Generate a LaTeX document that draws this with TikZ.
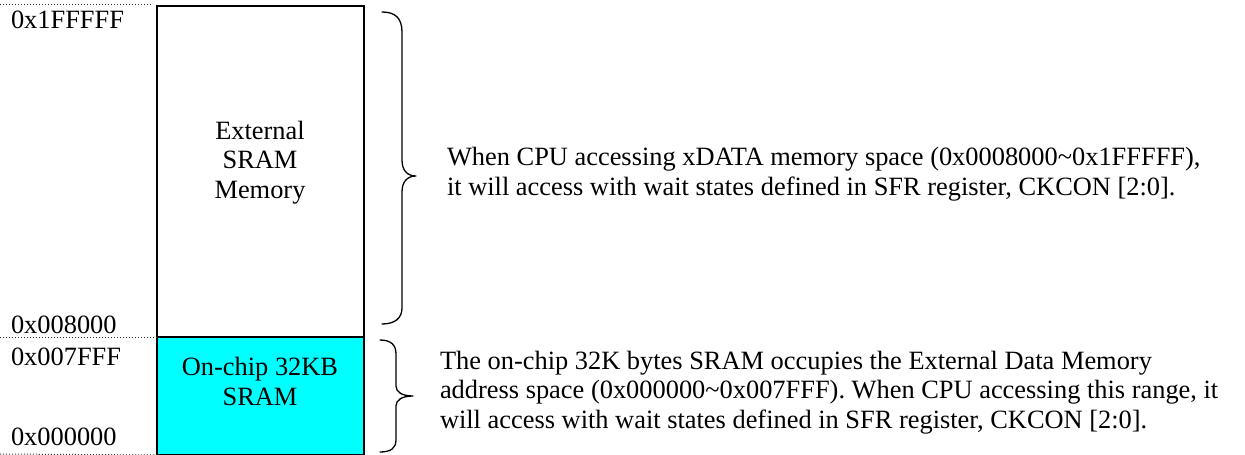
\documentclass[tikz,border=0pt]{standalone}
\usepackage{fontspec}
\setmainfont{Liberation Serif}
\definecolor{sramfill}{RGB}{0,255,255}
\begin{document}
\begin{tikzpicture}[x=1pt,y=-1pt,
  every node/.style={inner sep=0pt, outer sep=0pt, font=\fontsize{26.4}{29.5}\selectfont},
  membox/.style={draw=black, line width=1.3pt, anchor=north west},
  addr/.style={anchor=base west},
  guide/.style={line width=1pt, dash pattern=on 1pt off 2pt, black!80},
  curly/.style={line width=1.3pt, line cap=round, line join=round},
  note/.style={anchor=base west, align=left}]
\useasboundingbox (0,0) rectangle (1245,455);

% memory blocks
\node (ext) [membox, fill=white, minimum width=207pt, minimum height=331pt] at (157,6) {};
\node (onchip) [membox, fill=sramfill, minimum width=207pt, minimum height=118pt] at (157,337) {};

% block captions (multi-line nodes sit on the baseline of their last line)
\node (extlbl) [align=center, anchor=base] at (260,198) {External\\SRAM\\Memory};
\node (onlbl) [align=center, anchor=base] at (260,405) {On-chip 32KB\\SRAM};

% address boundaries
\draw[guide] (0,4) -- (152,4);
\draw[guide] (0,337) -- (onchip.north west);
\draw[guide] (0,454) -- (onchip.south west);

% address labels
\node (a1) [addr] at (11,28) {0x1FFFFF};
\node (a2) [addr] at (11,333) {0x008000};
\node (a3) [addr] at (11,365) {0x007FFF};
\node (a4) [addr] at (11,445) {0x000000};

% brace for the external range
\coordinate (b1tip) at (416,176);
\draw[curly] (382,12) .. controls (395,12) and (402,18) .. (402,32)
  -- (402,160) .. controls (402,170) and (407,176) .. (b1tip)
  .. controls (407,176) and (402,182) .. (402,192)
  -- (402,308) .. controls (402,318) and (395,324) .. (382,324);

% brace for the on-chip range
\coordinate (b2tip) at (413,396);
\draw[curly] (380,340) .. controls (391,340) and (396,345) .. (396,354)
  -- (396,386) .. controls (396,392) and (402,396) .. (b2tip)
  .. controls (402,396) and (396,400) .. (396,406)
  -- (396,440) .. controls (396,448) and (391,452) .. (380,452);

% descriptions
\node (n1) [note] at (447,195) {When CPU accessing xDATA memory space (0x0008000\char`\~0x1FFFFF),\\it will access with wait states defined in SFR register, CKCON [2:0].};
\node (n2) [note] at (440,428) {The on-chip 32K bytes SRAM occupies the External Data Memory\\address space (0x000000\char`\~0x007FFF). When CPU accessing this range, it\\will access with wait states defined in SFR register, CKCON [2:0].};
\end{tikzpicture}
\end{document}
